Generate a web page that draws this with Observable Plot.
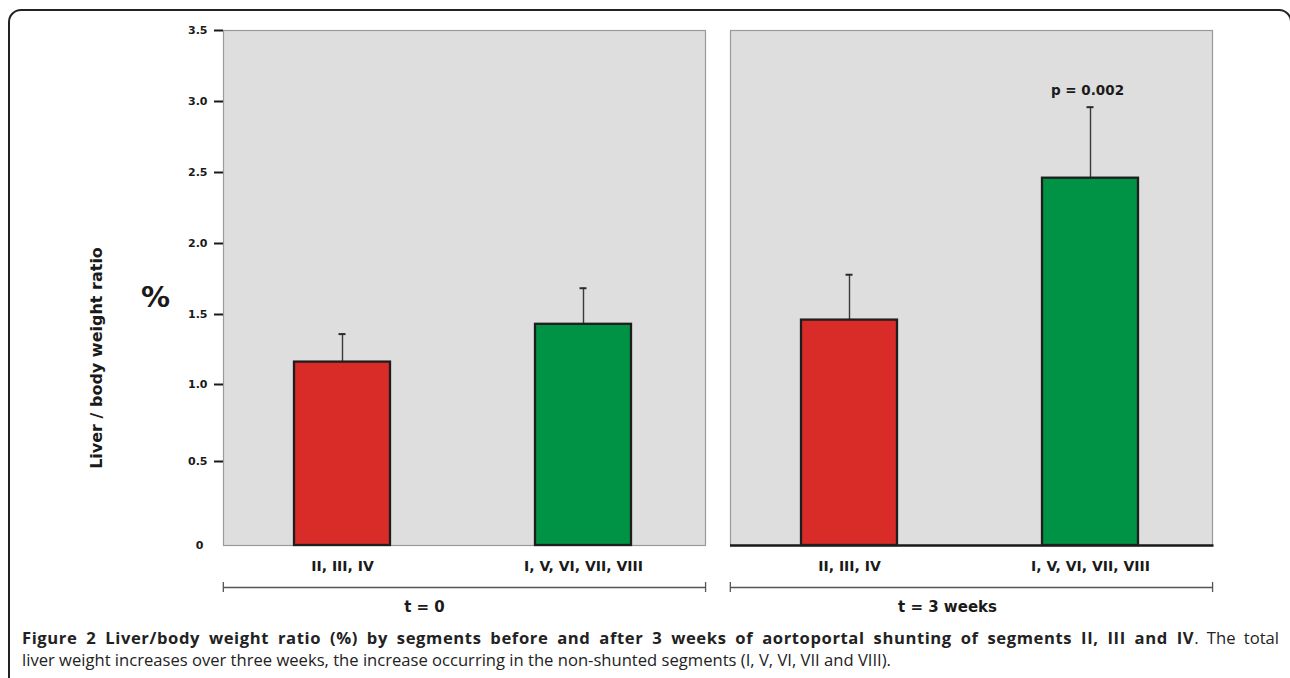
<!DOCTYPE html>
<html>
<head>
<meta charset="utf-8">
<script src="https://cdn.jsdelivr.net/npm/d3@7"></script>
<script src="https://cdn.jsdelivr.net/npm/@observablehq/plot@0.6"></script>
<style>
  html, body { margin: 0; padding: 0; background: #fff; overflow: hidden; width: 1290px; height: 678px; }
  #box { position: absolute; left: 8px; top: 9px; width: 1284px; height: 720px; border: 2px solid #222; border-radius: 13px; box-sizing: border-box; }
  #chart { position: absolute; left: 0; top: 0; }
  #chart svg text { font-family: "DejaVu Sans", sans-serif; font-weight: bold; }
  #caption { position: absolute; left: 22px; top: 627px; width: 1257px; font-family: "Open Sans", sans-serif; font-size: 16.6px; line-height: 22px; color: #222; }
  #caption .l1 { text-align: justify; text-align-last: justify; white-space: nowrap; }
  #caption b { font-weight: 700; letter-spacing: 0.6px; }
</style>
</head>
<body>
<div id="box"></div>
<div id="chart"></div>
<div id="caption">
  <div class="l1"><b>Figure 2 Liver/body weight ratio (%) by segments before and after 3 weeks of aortoportal shunting of segments II, III and IV</b>. The total</div>
  <div class="l2">liver weight increases over three weeks, the increase occurring in the non-shunted segments (I, V, VI, VII and VIII).</div>
</div>
<script>
// ---- data ----
const times = ["t = 0", "t = 0", "t = 3 weeks", "t = 3 weeks"];
const segments = ["II, III, IV", "I, V, VI, VII, VIII", "II, III, IV", "I, V, VI, VII, VIII"];
const means = [1.16, 1.43, 1.46, 2.46];
const errors = [0.20, 0.255, 0.32, 0.50];
const pLabels = ["", "", "", "p = 0.002"];
const timeGroups = ["t = 0", "t = 3 weeks"];
const segmentOrder = ["II, III, IV", "I, V, VI, VII, VIII"];
const segmentColors = ["#d92b27", "#009245"];
const yTicks = [0, 0.5, 1, 1.5, 2, 2.5, 3, 3.5];
const yLabel = "Liver / body weight ratio";
const yUnit = "%";

const rows = means.map((m, i) => ({
  time: times[i], segment: segments[i], mean: m, top: m + errors[i], p: pLabels[i]
}));

// ---- layout ----
const W = 1290, H = 622, mL = 223, mR = 77, mT = 30, mB = 77;
const gap = 25;
const facetStep = (W - mL - mR + gap) / 2;
const facetW = facetStep - gap;
const xPadIn = 0.6, xPadOut = 0.3, xAlign = 0.49;
const xStep = facetW / (2 - xPadIn + 2 * xPadOut);
const leftEnd = -(xAlign * 2 * xPadOut * xStep + xStep * (1 - xPadIn) / 2);
const rightEnd = facetW - (xAlign * 2 * xPadOut * xStep + xStep + xStep * (1 - xPadIn) / 2);
// piecewise axis as drawn in the original figure
const yPx = [545, 461, 384, 314, 243, 172, 101, 30];

const txt = { fontFamily: "DejaVu Sans", fontWeight: "bold", fill: "#1a1a1a" };

const chart = Plot.plot({
  width: W, height: H,
  marginLeft: mL, marginRight: mR, marginTop: mT, marginBottom: mB,
  style: { background: "transparent", overflow: "visible" },
  fx: { domain: timeGroups, paddingInner: gap / facetStep, paddingOuter: 0 },
  x: { domain: segmentOrder, paddingInner: xPadIn, paddingOuter: xPadOut, align: xAlign },
  y: { type: "linear", domain: yTicks, range: yPx },
  color: { domain: segmentOrder, range: segmentColors },
  marks: [
    Plot.frame({ fill: "#dedede", stroke: "#9a9a9a", strokeWidth: 1.2 }),
    Plot.ruleY([{ time: timeGroups[1], v: 0 }], { fx: "time", y: "v", stroke: "#1a1a1a", strokeWidth: 2.6, insetRight: -1.5 }),
    Plot.ruleX(rows, { fx: "time", x: "segment", y1: "mean", y2: "top", stroke: "#3a3a3a", strokeWidth: 1.4 }),
    Plot.tickY(rows, { fx: "time", x: "segment", y: "top", stroke: "#2a2a2a", strokeWidth: 2, insetLeft: 44.5, insetRight: 44.5 }),
    Plot.barY(rows, { fx: "time", x: "segment", y: "mean", fill: "segment", stroke: "#1e1e1e", strokeWidth: 2.3 }),
    Plot.text(rows.filter(d => d.p), { fx: "time", x: "segment", y: "top", text: "p", dy: -17, dx: -3, fontSize: 13.5, ...txt }),
    // y axis
    Plot.axisY({ ticks: yTicks.filter(v => v > 0), tickFormat: d3.format(".1f"), tickSize: 9, tickPadding: 7,
      stroke: "#1a1a1a", strokeWidth: 2, fontSize: 11, label: null, ...txt }),
    Plot.axisY({ ticks: [0], tickFormat: () => "0", tickSize: 0, tickPadding: 20, fontSize: 11, label: null, ...txt }),
    // y axis title and unit
    Plot.text([{ time: timeGroups[0] }], { fx: "time", text: () => yLabel, frameAnchor: "left", textAnchor: "middle",
      lineAnchor: "middle", rotate: -90, dx: -127, dy: 70, fontSize: 16, fontFamily: "Liberation Sans", fontWeight: "bold", fill: "#1a1a1a" }),
    Plot.text([{ time: timeGroups[0] }], { fx: "time", text: () => yUnit, frameAnchor: "left", textAnchor: "middle",
      lineAnchor: "middle", dx: -68, dy: 10, fontSize: 29, fontFamily: "Liberation Sans", fontWeight: "bold", fill: "#1a1a1a" }),
    // x axis
    Plot.axisX({ tickSize: 0, tickPadding: 16, fontSize: 14, label: null, ...txt }),
    // group brackets
    Plot.ruleY(timeGroups, { fx: d => d, y: () => 0, dy: 42, stroke: "#555", strokeWidth: 1.3 }),
    Plot.tickX(timeGroups, { fx: d => d, x: () => segmentOrder[0], dx: leftEnd, insetTop: 552, insetBottom: -47, stroke: "#555", strokeWidth: 1.3 }),
    Plot.tickX(timeGroups, { fx: d => d, x: () => segmentOrder[1], dx: rightEnd, insetTop: 552, insetBottom: -47, stroke: "#555", strokeWidth: 1.3 }),
    // group labels
    Plot.axisFx({ anchor: "bottom", ticks: [timeGroups[0]], tickSize: 0, tickPadding: 56, dx: -40, fontSize: 15, label: null, ...txt }),
    Plot.axisFx({ anchor: "bottom", ticks: [timeGroups[1]], tickSize: 0, tickPadding: 56, dx: -24, fontSize: 15, label: null, ...txt })
  ]
});
document.getElementById("chart").appendChild(chart);
</script>
</body>
</html>
